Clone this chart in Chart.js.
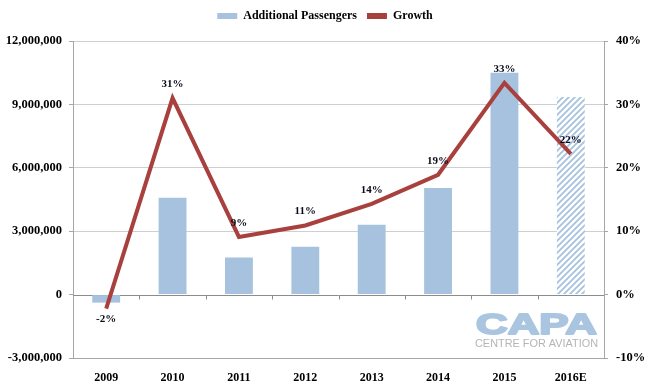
<!DOCTYPE html>
<html>
<head>
<meta charset="utf-8">
<script src="https://cdn.jsdelivr.net/npm/chart.js@4.4.0/dist/chart.umd.min.js"></script>
<style>
  html, body { margin: 0; padding: 0; background: #fff; }
  #wrap { width: 650px; height: 387px; }
</style>
</head>
<body>
<div id="wrap"><canvas id="chart" width="650" height="387"></canvas></div>
<script>
// chart data
var years = ['2009', '2010', '2011', '2012', '2013', '2014', '2015', '2016E'];
var additionalPassengers = [-380000, 4580000, 1750000, 2270000, 3300000, 5050000, 10500000, 9350000];
var growthPct = [-2.2, 31, 9.1, 10.9, 14.3, 18.9, 33.4, 22.2];
var growthLabels = ['-2%', '31%', '9%', '11%', '14%', '19%', '33%', '22%'];
var leftTicks = [-3000000, 0, 3000000, 6000000, 9000000, 12000000];
var rightTicks = [-10, 0, 10, 20, 30, 40];

var barBlue = '#a7c2de';
var lineRed = '#a8403e';
var serif = '"Liberation Serif", "DejaVu Serif", serif';

// hatch for the estimate bar
function makeHatch() {
  var c = document.createElement('canvas');
  c.width = 6; c.height = 6;
  var g = c.getContext('2d');
  g.fillStyle = '#fff';
  g.fillRect(0, 0, 6, 6);
  g.strokeStyle = barBlue;
  g.lineWidth = 1.8;
  g.beginPath();
  g.moveTo(-1, 7); g.lineTo(7, -1);
  g.moveTo(-4, 4); g.lineTo(4, -4);
  g.moveTo(2, 10); g.lineTo(10, 2);
  g.stroke();
  return document.getElementById('chart').getContext('2d').createPattern(c, 'repeat');
}
var hatch = makeHatch();
var barColors = years.map(function(y) { return y.indexOf('E') >= 0 ? hatch : barBlue; });

// draw text stretched to a given width
function fitText(ctx, txt, font, x, baseline, width, heavy) {
  ctx.font = font;
  var w = ctx.measureText(txt).width;
  ctx.save();
  ctx.translate(x, baseline);
  ctx.scale(width / w, 1);
  ctx.textAlign = 'left';
  ctx.textBaseline = 'alphabetic';
  ctx.fillText(txt, 0, 0);
  if (heavy) {
    ctx.strokeStyle = ctx.fillStyle;
    ctx.lineWidth = heavy;
    ctx.lineJoin = 'round';
    ctx.strokeText(txt, 0, 0);
  }
  ctx.restore();
}

var extras = {
  id: 'extras',
  beforeInit: function(chart) {
    var fit = chart.legend.fit;
    chart.legend.fit = function() {
      fit.call(this);
      this.height += 9;
    };
  },
  beforeDatasetsDraw: function(chart) {
    var ctx = chart.ctx, a = chart.chartArea;
    var y = chart.scales.y;
    // watermark
    ctx.save();
    ctx.fillStyle = '#aac5e0';
    fitText(ctx, 'CAPA', 'bold 30px "Liberation Sans", Arial, sans-serif', 476, 334, 121, 2);
    ctx.fillStyle = '#b5b5b5';
    fitText(ctx, 'CENTRE FOR AVIATION', '11px "Liberation Sans", Arial, sans-serif', 475, 347, 123, 0);
    ctx.restore();

    // zero line with category ticks
    var zy = Math.round(y.getPixelForValue(0)) + 0.5;
    ctx.save();
    ctx.strokeStyle = '#8c8c8c';
    ctx.lineWidth = 1;
    ctx.beginPath();
    ctx.moveTo(a.left, zy); ctx.lineTo(a.right, zy);
    var step = (a.right - a.left) / years.length;
    for (var i = 1; i < years.length; i++) {
      var tx = Math.round(a.left + step * i) + 0.5;
      ctx.moveTo(tx, zy); ctx.lineTo(tx, zy + 4);
    }
    ctx.stroke();
    ctx.restore();
  },
  afterDatasetsDraw: function(chart) {
    var ctx = chart.ctx;
    var meta = chart.getDatasetMeta(1);
    ctx.save();
    ctx.fillStyle = '#0a0a1a';
    ctx.font = 'bold 11px ' + serif;
    ctx.textAlign = 'center';
    ctx.textBaseline = 'middle';
    meta.data.forEach(function(pt, i) {
      var dy = growthPct[i] < 0 ? 11 : -14;
      ctx.fillText(growthLabels[i], pt.x, pt.y + dy);
    });
    ctx.restore();
  }
};

new Chart(document.getElementById('chart'), {
  data: {
    labels: years,
    datasets: [
      {
        type: 'bar',
        label: 'Additional Passengers',
        data: additionalPassengers,
        backgroundColor: barColors,
        borderWidth: 0,
        barPercentage: 0.42,
        categoryPercentage: 1,
        yAxisID: 'y',
        order: 2
      },
      {
        type: 'line',
        label: 'Growth',
        data: growthPct,
        borderColor: lineRed,
        backgroundColor: lineRed,
        borderWidth: 4,
        pointRadius: 0,
        tension: 0,
        yAxisID: 'y1',
        order: 1
      }
    ]
  },
  options: {
    responsive: false,
    animation: false,
    layout: { padding: 0 },
    plugins: {
      tooltip: { enabled: false },
      legend: {
        position: 'top',
        labels: {
          color: '#000',
          font: { family: serif, size: 12, weight: 'bold' },
          boxWidth: 20,
          boxHeight: 6,
          padding: 10,
          generateLabels: function(chart) {
            return chart.data.datasets.map(function(ds, i) {
              return {
                text: ds.label,
                fillStyle: i === 0 ? barBlue : lineRed,
                strokeStyle: i === 0 ? barBlue : lineRed,
                lineWidth: 0,
                datasetIndex: i
              };
            });
          }
        }
      }
    },
    scales: {
      x: {
        grid: { display: false },
        border: { display: true, color: '#a6a6a6' },
        ticks: { color: '#000', font: { family: serif, size: 12, weight: 'bold' }, padding: 5 },
        afterFit: function(s) { s.height = 29; }
      },
      y: {
        position: 'left',
        min: -3000000,
        max: 12000000,
        afterBuildTicks: function(s) { s.ticks = leftTicks.map(function(v) { return { value: v }; }); },
        grid: {
          color: function(c) { return c.tick && c.tick.value === 0 ? 'rgba(0,0,0,0)' : '#cfcfcf'; },
          tickColor: '#a6a6a6',
          tickLength: 4
        },
        border: { display: true, color: '#a6a6a6' },
        ticks: {
          color: '#000',
          font: { family: serif, size: 12.5, weight: 'bold' },
          padding: 7,
          callback: function(v) { return v.toLocaleString('en-US'); }
        },
        afterFit: function(s) { s.width = 73; }
      },
      y1: {
        position: 'right',
        min: -10,
        max: 40,
        afterBuildTicks: function(s) { s.ticks = rightTicks.map(function(v) { return { value: v }; }); },
        grid: { drawOnChartArea: false, tickColor: '#a6a6a6', tickLength: 4 },
        border: { display: true, color: '#a6a6a6' },
        ticks: {
          color: '#000',
          font: { family: serif, size: 12.5, weight: 'bold' },
          padding: 8,
          callback: function(v) { return v + '%'; }
        },
        afterFit: function(s) { s.width = 46; }
      }
    }
  },
  plugins: [extras]
});
</script>
</body>
</html>
